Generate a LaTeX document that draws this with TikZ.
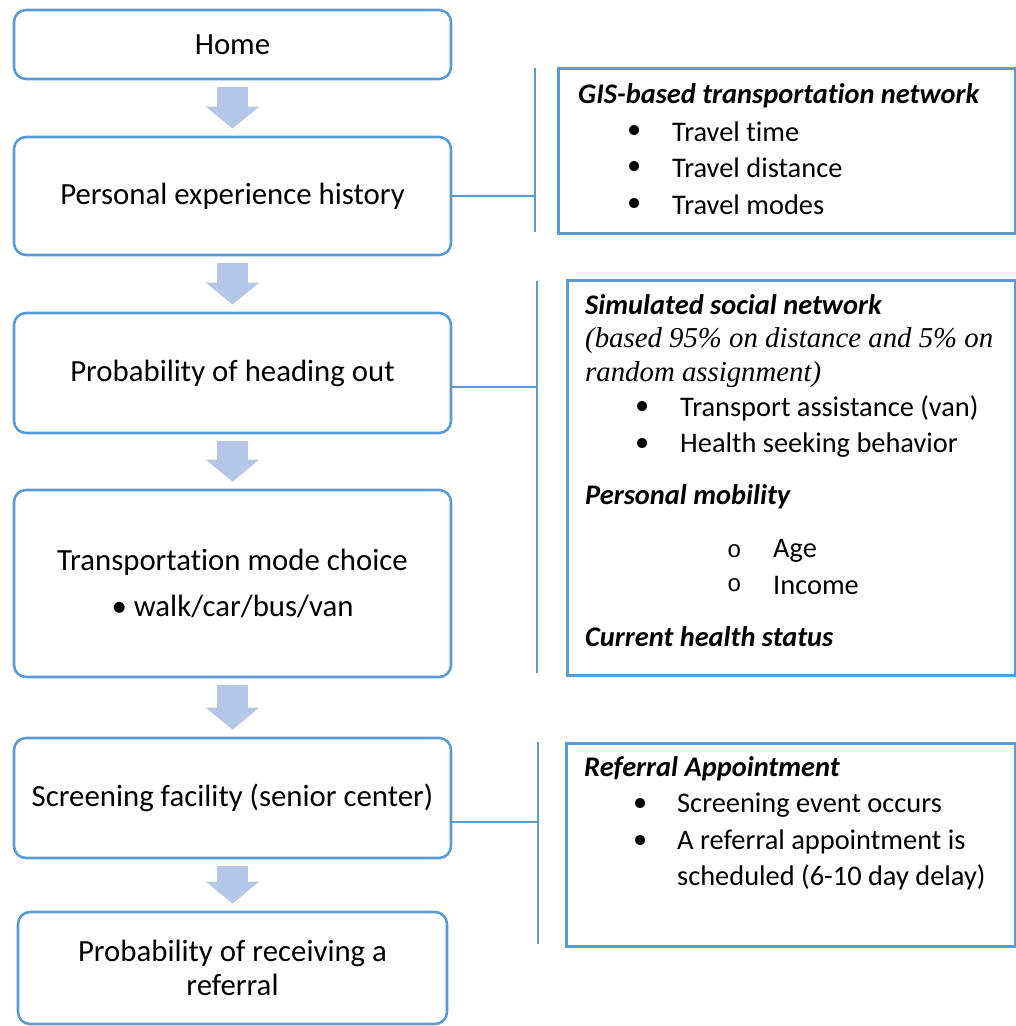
\documentclass[tikz,border=0pt]{standalone}
\usepackage{fontspec}
\setmainfont{Carlito}[Ligatures=NoCommon]
\setmonofont{Liberation Mono}
\newfontfamily\noteserif{Liberation Serif}
\usetikzlibrary{arrows.meta}
\definecolor{boxblue}{HTML}{5B9BD5}
\definecolor{arrowblue}{HTML}{B4C7E7}

\begin{document}
\begin{tikzpicture}[x=1pt, y=-1pt,
	stepbox/.style={draw=boxblue, line width=2.6pt, rounded corners=12pt, minimum width=437pt, align=center, inner sep=0pt, font=\fontsize{30.8}{36}\selectfont},
	infobox/.style={draw=boxblue, line width=2.6pt, anchor=north west, inner sep=0pt},
	flowarrow/.style={draw=arrowblue, line width=31pt, shorten <=7pt, shorten >=7pt, -{Triangle[width=52pt, length=22pt]}},
	link/.style={draw=boxblue, line width=2pt},
	note/.style={anchor=west, inner sep=0pt, font=\fontsize{28.4}{34}\selectfont},
	head/.style={note, font=\fontsize{28.4}{34}\selectfont\bfseries\itshape}]
	\useasboundingbox (0,0) rectangle (1016,1026);
	% flow on the left
	\node[stepbox, minimum height=69pt] (home) at (232.5,44.5) {Home};
	\node[stepbox, minimum height=118pt] (hist) at (232.5,196) {Personal experience history};
	\node[stepbox, minimum height=120pt] (headout) at (232.5,373) {Probability of heading out};
	\node[stepbox, minimum height=187pt] (mode) at (232.5,583.5) {Transportation mode choice\\[10pt]\textbullet\ walk/car/bus/van};
	\node[stepbox, minimum height=120pt] (screen) at (232.5,798) {Screening facility (senior center)};
	\node[stepbox, minimum height=112pt, minimum width=429pt, font=\fontsize{30.8}{34}\selectfont] (referral) at (232.5,968) {Probability of receiving a\\referral};
	\draw[flowarrow] (home) -- (hist);
	\draw[flowarrow] (hist) -- (headout);
	\draw[flowarrow] (headout) -- (mode);
	\draw[flowarrow] (mode) -- (screen);
	\draw[flowarrow] (screen) -- (referral);
	% factor boxes on the right
	\node[infobox, minimum width=457pt, minimum height=165pt] (gis) at (557,67) {};
	\node[infobox, minimum width=448pt, minimum height=395pt] (social) at (566,279) {};
	\node[infobox, minimum width=449pt, minimum height=203pt] (appt) at (565,742) {};
	\coordinate (gistop) at (535,68);
	\coordinate (gisbot) at (535,232);
	\coordinate (gismid) at (535,196);
	\coordinate (socialtop) at (537,281);
	\coordinate (socialbot) at (537,673);
	\coordinate (socialmid) at (537,387);
	\coordinate (appttop) at (538,742);
	\coordinate (apptbot) at (538,944);
	\coordinate (apptmid) at (538,822);
	\draw[link] (gistop) -- (gisbot);
	\draw[link] (hist.east |- gismid) -- (gismid);
	\draw[link] (socialtop) -- (socialbot);
	\draw[link] (headout.east |- socialmid) -- (socialmid);
	\draw[link] (appttop) -- (apptbot);
	\draw[link] (screen.east |- apptmid) -- (apptmid);
	% GIS box
	\node[head] (gishead) at (578,96) {GIS-based transportation network};
	\node[note] (gisb1) at (627,132) {\textbullet};
	\node[note] (gisb2) at (627,168) {\textbullet};
	\node[note] (gisb3) at (627,205) {\textbullet};
	\node[note] (gist1) at (672,132) {Travel time};
	\node[note] (gist2) at (672,168) {Travel distance};
	\node[note] (gist3) at (672,205) {Travel modes};
	% social network box
	\node[head] (socialhead) at (585,305) {Simulated social network};
	\node[note, font=\fontsize{28.8}{34}\noteserif\itshape] (socialsrc1) at (585,341) {(based 95\% on distance and 5\% on};
	\node[note, font=\fontsize{28.8}{34}\noteserif\itshape] (socialsrc2) at (585,375) {random assignment)};
	\node[note] (socialb1) at (635,408) {\textbullet};
	\node[note] (socialb2) at (635,445) {\textbullet};
	\node[note] (socialt1) at (680,408) {Transport assistance (van)};
	\node[note] (socialt2) at (680,445) {Health seeking behavior};
	\node[head] (mobhead) at (585,497) {Personal mobility};
	\node[note, font=\fontsize{24}{30}\ttfamily] (mobb1) at (727,551) {o};
	\node[note, font=\fontsize{24}{30}\ttfamily] (mobb2) at (727,585) {o};
	\node[note] (mobt1) at (773,551) {Age};
	\node[note] (mobt2) at (773,585) {Income};
	\node[head] (healthhead) at (585,637) {Current health status};
	% referral box
	\node[head] (appthead) at (584,769) {Referral Appointment};
	\node[note] (apptb1) at (633,805) {\textbullet};
	\node[note] (apptb2) at (633,842) {\textbullet};
	\node[note] (appt1) at (677,805) {Screening event occurs};
	\node[note] (appt2) at (677,842) {A referral appointment is};
	\node[note] (appt3) at (677,877) {scheduled (6-10 day delay)};
\end{tikzpicture}
\end{document}
